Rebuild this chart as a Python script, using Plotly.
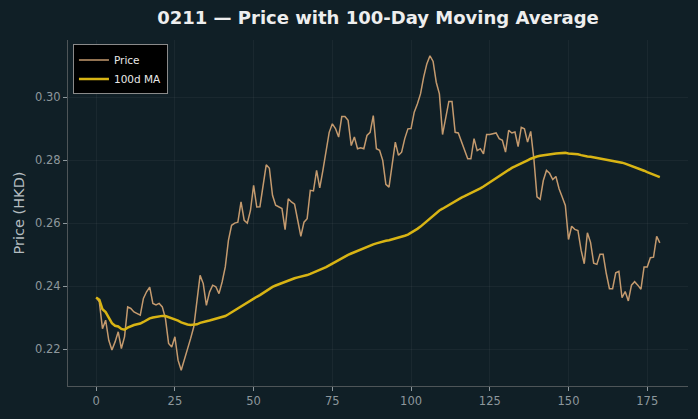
import plotly.graph_objects as go
import pandas as pd

title = "0211 — Price with 100-Day Moving Average"
x_ticks = [0, 25, 50, 75, 100, 125, 150, 175]
y_ticks = [0.22, 0.24, 0.26, 0.28, 0.30]

price = [
    0.2364, 0.2350, 0.2265, 0.2292, 0.2228, 0.2197, 0.2223, 0.2255, 0.2202, 0.2239,
    0.2334, 0.2329, 0.2318, 0.2313, 0.2308, 0.2361, 0.2382, 0.2397, 0.2345, 0.2340,
    0.2345, 0.2334, 0.2297, 0.2218, 0.2207, 0.2239, 0.2165, 0.2133, 0.2165, 0.2202,
    0.2234, 0.2271, 0.2345, 0.2434, 0.2408, 0.2339, 0.2381, 0.2403, 0.2398, 0.2376,
    0.2413, 0.2461, 0.2545, 0.2593, 0.2600, 0.2603, 0.2667, 0.2609, 0.2600, 0.2640,
    0.2720, 0.2651, 0.2652, 0.2720, 0.2785, 0.2774, 0.2688, 0.2657, 0.2651, 0.2646,
    0.2579, 0.2677, 0.2667, 0.2660, 0.2609, 0.2558, 0.2603, 0.2614, 0.2704, 0.2702,
    0.2767, 0.2712, 0.2767, 0.2830, 0.2888, 0.2915, 0.2900, 0.2873, 0.2938, 0.2938,
    0.2926, 0.2846, 0.2873, 0.2836, 0.2839, 0.2836, 0.2878, 0.2888, 0.2941, 0.2836,
    0.2831, 0.2799, 0.2723, 0.2714, 0.2778, 0.2857, 0.2815, 0.2825, 0.2868, 0.2899,
    0.2900, 0.2952, 0.2978, 0.3010, 0.3063, 0.3105, 0.3131, 0.3113, 0.3047, 0.3010,
    0.2881, 0.2936, 0.2986, 0.2986, 0.2888, 0.2886, 0.2857, 0.2830, 0.2804, 0.2804,
    0.2868, 0.2830, 0.2836, 0.2820, 0.2881, 0.2881, 0.2883, 0.2886, 0.2868, 0.2863,
    0.2825, 0.2894, 0.2886, 0.2889, 0.2843, 0.2904, 0.2899, 0.2857, 0.2891, 0.2804,
    0.2683, 0.2675, 0.2735, 0.2767, 0.2758, 0.2738, 0.2748, 0.2709, 0.2683, 0.2656,
    0.2548, 0.2590, 0.2580, 0.2576, 0.2514, 0.2471, 0.2569, 0.2539, 0.2473, 0.2469,
    0.2501, 0.2501, 0.2440, 0.2392, 0.2392, 0.2442, 0.2447, 0.2363, 0.2383, 0.2353,
    0.2403, 0.2414, 0.2403, 0.2390, 0.2461, 0.2461, 0.2490, 0.2492, 0.2558, 0.2537,
]
days = list(range(len(price)))
ma100 = pd.Series(price).rolling(100, min_periods=1).mean().tolist()

BG = "#101f26"
fig = go.Figure()
fig.add_trace(go.Scatter(x=days, y=price, mode="lines", name="Price",
                         line=dict(color="#c49a6e", width=1.5)))
fig.add_trace(go.Scatter(x=days, y=ma100, mode="lines", name="100d MA",
                         line=dict(color="#d8b414", width=2.5)))

fig.update_layout(
    width=698, height=419,
    paper_bgcolor=BG, plot_bgcolor=BG,
    margin=dict(l=68, r=10, t=40, b=33),
    font=dict(family="DejaVu Sans", color="#8d979c", size=11.5),
    title=dict(text=f"<b>{title}</b>", x=0.5, xref="paper", y=0.957, yref="container",
               yanchor="middle", font=dict(size=18, color="#eeeeee", family="DejaVu Sans")),
    showlegend=True,
    legend=dict(x=0.008, y=0.987, xanchor="left", yanchor="top",
                bgcolor="#000000", bordercolor="#8a8a8a", borderwidth=1,
                font=dict(size=10.5, color="#e8e8e8"), itemwidth=30,
                tracegroupgap=0),
)
fig.update_xaxes(range=[-8.95, 187.95], tickvals=x_ticks, showgrid=True,
                 gridcolor="rgba(255,255,255,0.045)", zeroline=False,
                 showline=True, linecolor="#4e5558", linewidth=1,
                 ticks="outside", ticklen=4, tickcolor="#8d979c", mirror=False)
fig.update_yaxes(range=[0.2083, 0.3181], tickvals=y_ticks, tickformat=".2f",
                 showgrid=True, gridcolor="rgba(255,255,255,0.045)", zeroline=False,
                 showline=True, linecolor="#4e5558", linewidth=1,
                 ticks="outside", ticklen=4, tickcolor="#8d979c",
                 title=dict(text="Price (HKD)", font=dict(size=14.5, color="#b4bcc0"),
                            standoff=7))
fig.write_html("out.html")
